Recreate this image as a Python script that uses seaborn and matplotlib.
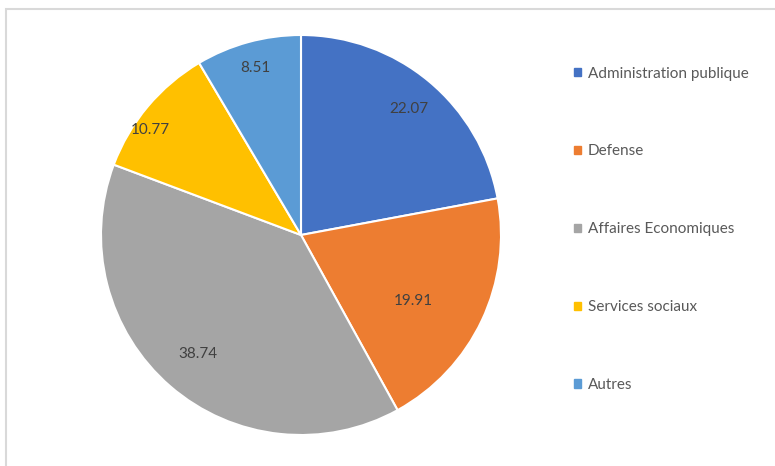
import numpy as np
import matplotlib.pyplot as plt
import matplotlib.patches as mpatches
import seaborn as sns

categories = ['Administration publique', 'Defense', 'Affaires Economiques',
              'Services sociaux', 'Autres']
values = [22.07, 19.91, 38.74, 10.77, 8.51]
colors = ['#4472C4', '#ED7D31', '#A5A5A5', '#FFC000', '#5B9BD5']

sns.set_theme(style="white")
plt.rcParams['font.family'] = ['Lato', 'DejaVu Sans']

fig = plt.figure(figsize=(7.75, 4.66), dpi=100)
ax = fig.add_axes([101 / 775, 31 / 466, 400 / 775, 400 / 466])

palette = sns.color_palette(colors)
wedges, _ = ax.pie(values, colors=palette, startangle=90, counterclock=False,
                   radius=1.0, wedgeprops=dict(edgecolor='white', linewidth=1.5))
ax.set_aspect('equal')
ax.set_xlim(-1, 1)
ax.set_ylim(-1, 1)

# Excel "best fit" style label placement
label_dist = [0.83, 0.65, 0.79, 0.92, 0.865]
label_shift = [-1, -5, 0, 5, 0]
for w, v, d, s in zip(wedges, values, label_dist, label_shift):
    ang = np.deg2rad((w.theta1 + w.theta2) / 2 + s)
    ax.text(d * np.cos(ang), d * np.sin(ang), f'{v:.2f}', ha='center', va='center',
            fontsize=11, color='#404040')

handles = [mpatches.Patch(color=c, label=l) for c, l in zip(colors, categories)]
leg = fig.legend(handles=handles, loc='center left', bbox_to_anchor=(574 / 775, 0.508),
                 bbox_transform=fig.transFigure, frameon=False, fontsize=11,
                 handlelength=0.45, handleheight=0.45, handletextpad=0.45,
                 labelspacing=4.18, borderpad=0, borderaxespad=0)
for t in leg.get_texts():
    t.set_color('#595959')

# chart border (right and bottom edges fall outside the image)
fig.patches.append(mpatches.Rectangle((6 / 775, -0.5), 2, 0.5 + (466 - 9) / 466,
                                      transform=fig.transFigure, fill=False,
                                      edgecolor='#D9D9D9', linewidth=1.5))

fig.savefig('out.png', dpi=100)
